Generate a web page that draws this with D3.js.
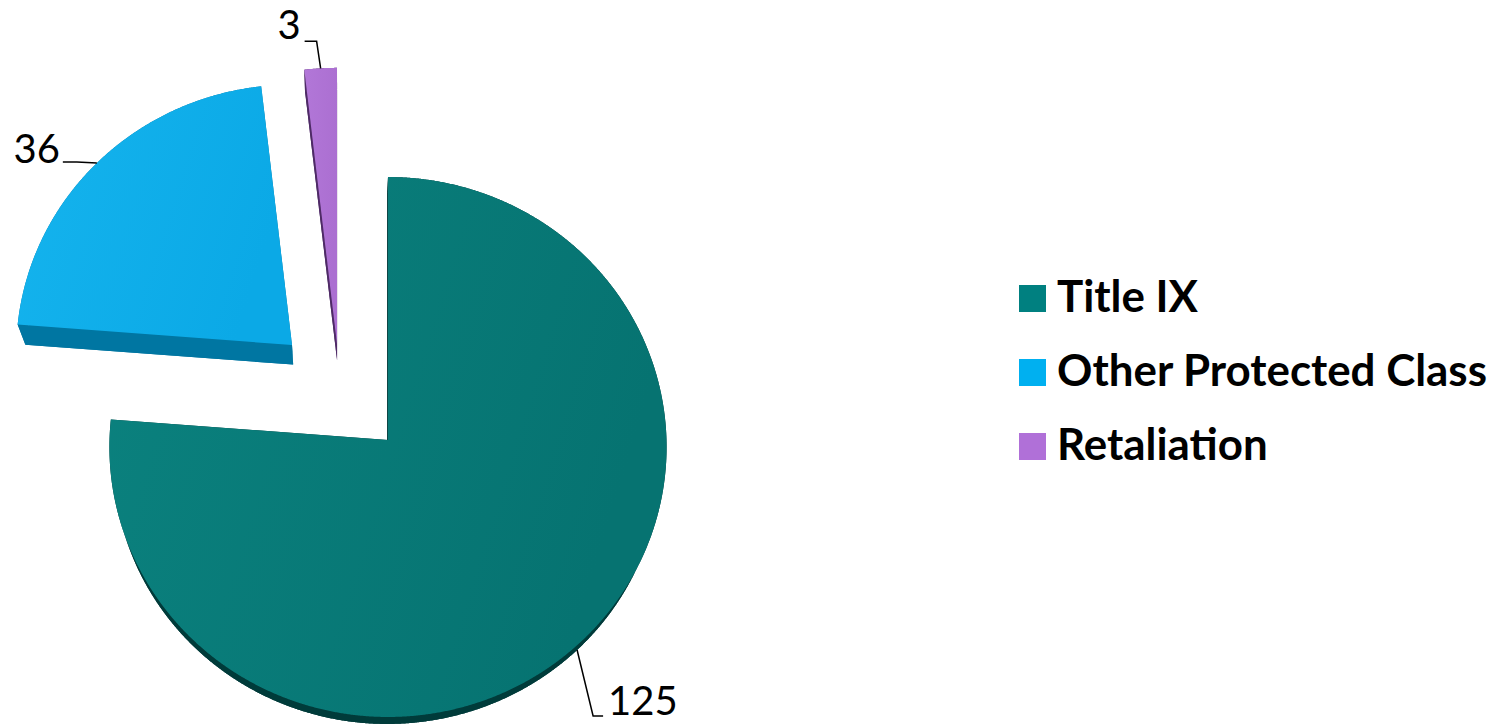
<!DOCTYPE html>
<html><head><meta charset="utf-8">
<script src="https://cdn.jsdelivr.net/npm/d3@7"></script>
<style>body{margin:0;background:#fff}svg{display:block}</style>
</head><body>
<svg id="chart" width="1507" height="727"></svg>
<script>
// ---- data ----
const categories = ["Title IX", "Other Protected Class", "Retaliation"];
const values = [125, 36, 3];
const valueLabels = ["125", "36", "3"];

// ---- styles ----
const topColorsA = ["#0b827f", "#15b4ee", "#b277d8"];
const topColorsB = ["#067371", "#0ba9e6", "#ab6fd1"];
const sideColors = ["#003b3a", "#0076a2", "#4e2a66"];
const legendColors = ["#008080", "#00b0f0", "#b070d8"];

// ---- layout ----
const center = {x: 388, y: 440};
const RX = 278.5, RY = 269.8, K = -0.0259;   // perspective ellipse
const VP = {x: 340, y: 1160};                  // vanishing point for depth
const sliceLayout = [
  {dx: 0, dy: 0, s: 1.0, f: 0.0158},
  {dx: -96, dy: -95, s: 0.99, f: 0.024},
  {dx: -51, dy: -96, s: 1.05, f: 0.02}
];
const labelLayout = [
  {ex: 16, ey: 66, hx: 10, tx: 5, ty: -1, anchor: "start"},
  {ex: -20, ey: -1, hx: -14, tx: -3, ty: 1, anchor: "end"},
  {ex: -4, ey: -27, hx: -12, tx: -4, ty: -2, anchor: "end"}
];

const svg = d3.select("#chart");
const defs = svg.append("defs");

function proj(i, a, r) {
  const e = sliceLayout[i];
  const u = Math.sin(a) * r, v = -Math.cos(a) * r;
  const w = 1 + K * v;
  return [center.x + e.dx + RX * e.s * u / w, center.y + e.dy + RY * e.s * v / w];
}
function down(i, p) {
  const f = sliceLayout[i].f;
  return [p[0] + f * (VP.x - p[0]), p[1] + f * (VP.y - p[1])];
}
function arcPts(i, a0, a1) {
  const n = Math.max(2, Math.ceil((a1 - a0) / 0.004));
  return d3.range(n + 1).map(k => proj(i, a0 + (a1 - a0) * k / n, 1));
}
const line = d3.line();
const closed = pts => line(pts) + "Z";

const pie = d3.pie().sort(null).value(d => d).startAngle(0).endAngle(2 * Math.PI);
const arcs = pie(values);

const gSlices = svg.append("g");
arcs.forEach((d, i) => {
  const gid = "grad" + i;
  const gr = defs.append("linearGradient").attr("id", gid)
    .attr("x1", "0").attr("y1", "0").attr("x2", "1").attr("y2", "0.3");
  gr.append("stop").attr("offset", "0").attr("stop-color", topColorsA[i]);
  gr.append("stop").attr("offset", "1").attr("stop-color", topColorsB[i]);

  const V = proj(i, 0, 0);
  const arc = arcPts(i, d.startAngle, d.endAngle);
  const topPoly = [V, ...arc];
  const downPoly = topPoly.map(p => down(i, p));
  const g = gSlices.append("g");
  g.append("path").attr("d", closed(downPoly)).attr("fill", sideColors[i]);
  const rim = [...arc, ...arc.map(p => down(i, p)).reverse()];
  g.append("path").attr("d", closed(rim)).attr("fill", sideColors[i]);
  [arc[0], arc[arc.length - 1]].forEach(P => {
    g.append("path").attr("d", closed([V, P, down(i, P), down(i, V)])).attr("fill", sideColors[i]);
  });
  g.append("path").attr("d", closed(topPoly)).attr("fill", `url(#${gid})`);
});

// labels with leader lines
const gLab = svg.append("g");
arcs.forEach((d, i) => {
  const mid = (d.startAngle + d.endAngle) / 2;
  let A = proj(i, mid, 1);
  if (-Math.cos(mid) > 0) A = down(i, A);
  const L = labelLayout[i];
  const E = [A[0] + L.ex, A[1] + L.ey];
  const Hn = [E[0] + L.hx, E[1]];
  gLab.append("path").attr("d", line([A, E, Hn]))
    .attr("fill", "none").attr("stroke", "#000").attr("stroke-width", 1.5);
  gLab.append("text").attr("x", Hn[0] + L.tx).attr("y", Hn[1] + L.ty)
    .attr("text-anchor", L.anchor)
    .attr("font-family", "Lato, 'Open Sans', sans-serif")
    .attr("font-size", 40).attr("fill", "#000")
    .text(valueLabels[i]);
});

// legend
const leg = svg.append("g");
const legY = d3.scalePoint().domain(categories).range([298.5, 446.5]);
const items = leg.selectAll("g").data(categories).join("g")
  .attr("transform", c => `translate(1019,${legY(c)})`);
items.append("rect").attr("x", 0).attr("y", -13.5).attr("width", 27).attr("height", 27)
  .attr("fill", (c, i) => legendColors[i]);
const texts = items.append("text").attr("x", 38).attr("y", 13.5)
  .attr("font-family", "Lato, 'Open Sans', sans-serif").attr("font-weight", "bold")
  .attr("font-size", 44).attr("fill", "#000").text(c => c);
const longest = texts.filter(c => c === "Other Protected Class").node();
const w = longest.getComputedTextLength();
const fs = Math.max(36, Math.min(48, 44 * 430 / w));
texts.attr("font-size", fs);
</script>
</body></html>
